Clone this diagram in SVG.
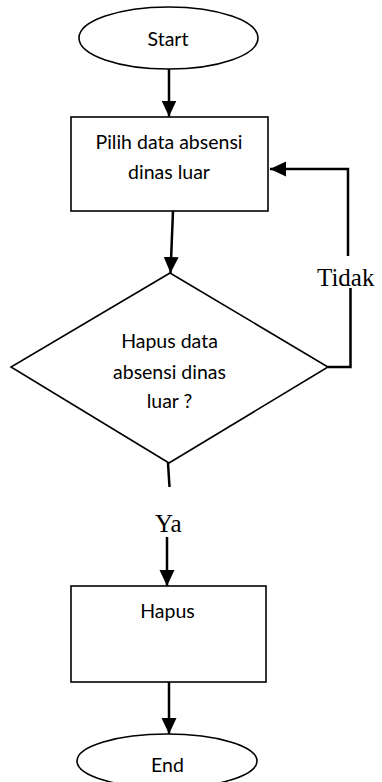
<svg xmlns="http://www.w3.org/2000/svg" width="382" height="782" viewBox="0 0 382 782">
<style>
.shape{fill:#fff;stroke:#000;stroke-width:1.6}
.conn{fill:none;stroke:#000;stroke-width:2.5}
.t{font-family:Lato,"Liberation Sans",sans-serif;font-size:19.5px;fill:#000;text-anchor:middle}
.s{font-family:"Liberation Serif",serif;font-size:25px;fill:#000}
</style>
<defs>
<marker id="ah" markerUnits="userSpaceOnUse" markerWidth="17" markerHeight="16" refX="16" refY="7.5" orient="auto">
<path d="M0,0 L16,7.5 L0,15 z" fill="#000"/>
</marker>
</defs>
<rect width="382" height="782" fill="#fff"/>
<g id="start">
<ellipse class="shape" cx="168.5" cy="38" rx="89.5" ry="31"/>
<text class="t" x="168" y="45.5">Start</text>
</g>
<g id="pilih">
<rect class="shape" x="71" y="117" width="197" height="94"/>
<text class="t" x="169" y="149">Pilih data absensi</text>
<text class="t" x="169" y="179">dinas luar</text>
</g>
<g id="decision">
<polygon class="shape" points="170,273 328,367 169,463 11,367"/>
<text class="t" x="169.5" y="348">Hapus data</text>
<text class="t" x="169.5" y="379">absensi dinas</text>
<text class="t" x="169.5" y="408">luar ?</text>
</g>
<g id="hapus">
<rect class="shape" x="71" y="586" width="195" height="96"/>
<text class="t" x="167.5" y="618">Hapus</text>
</g>
<g id="end">
<ellipse class="shape" cx="167" cy="761" rx="90" ry="27"/>
<text class="t" x="167.5" y="772">End</text>
</g>
<g id="connectors">
<line class="conn" x1="169" y1="69" x2="169" y2="116.5" marker-end="url(#ah)"/>
<line class="conn" x1="173" y1="211" x2="170.5" y2="273" marker-end="url(#ah)"/>
<path class="conn" d="M328,367 H350.5 V288"/>
<path class="conn" d="M348,256 V169 H270" marker-end="url(#ah)"/>
<line class="conn" x1="168" y1="463" x2="169.5" y2="487"/>
<line class="conn" x1="167" y1="537" x2="167" y2="586" marker-end="url(#ah)"/>
<line class="conn" x1="169" y1="682" x2="169" y2="734" marker-end="url(#ah)"/>
</g>
<g id="labels">
<text class="s" x="317" y="286">Tidak</text>
<text class="s" x="155" y="532">Ya</text>
</g>
</svg>
